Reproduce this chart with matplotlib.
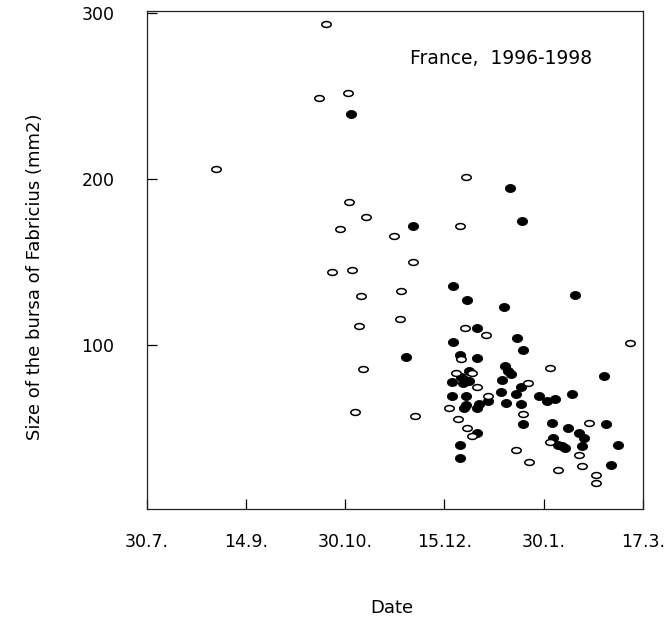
import numpy as np
import matplotlib
matplotlib.use("Agg")
import matplotlib.pyplot as plt
from matplotlib.path import Path

# ── Data: days since 30 July, bursa size (mm2) ────────────────────────────────
OPEN_DAY = [83.1, 80.0, 93.2, 32.4, 147.8, 93.7, 101.7, 89.7, 114.7, 123.4,
            85.8, 95.2, 99.3, 117.9, 98.5, 117.3, 100.2, 96.5, 124.4, 145.2,
            147.6, 157.2, 224.1, 145.9, 186.8, 143.6, 150.8, 176.7, 153.3, 158.0,
            140.1, 174.4, 144.1, 148.7, 150.8, 205.1, 186.8, 171.2, 200.3, 177.4,
            190.8, 201.7, 208.2, 208.2]
OPEN_SIZE = [293.4, 248.8, 251.8, 206.0, 201.2, 186.1, 177.1, 169.9, 165.7, 150.0,
             144.0, 145.2, 129.5, 132.5, 111.4, 115.7, 85.5, 59.6, 57.2, 171.7,
             110.2, 106.2, 101.0, 91.6, 86.3, 83.3, 83.1, 76.9, 74.7, 69.5,
             62.2, 58.3, 55.4, 50.2, 45.0, 53.2, 41.7, 36.9, 33.7, 29.7,
             24.7, 26.9, 21.7, 16.7]

FILLED_DAY = [94.8, 168.6, 123.4, 173.8, 120.2, 142.1, 148.5, 165.6, 198.5, 153.2,
              142.1, 171.8, 174.3, 145.2, 153.2, 166.3, 167.5, 168.7, 149.2, 145.9,
              147.5, 149.5, 146.7, 141.3, 164.7, 173.5, 211.9, 141.5, 147.9, 164.1,
              171.1, 182.0, 185.7, 189.2, 196.9, 147.0, 147.8, 153.2, 154.1, 158.0,
              166.4, 173.7, 153.2, 174.4, 187.7, 195.4, 212.8, 200.3, 202.5, 188.3,
              190.8, 192.6, 194.0, 201.7, 218.5, 145.3, 145.3, 215.1]
FILLED_SIZE = [239.2, 194.6, 171.7, 174.7, 92.8, 135.4, 126.9, 122.9, 130.1, 110.2,
               102.0, 104.0, 96.8, 93.8, 92.3, 87.5, 84.5, 82.3, 84.5, 80.9,
               78.9, 78.5, 76.9, 77.9, 79.1, 74.7, 81.1, 69.5, 69.5, 71.5,
               70.7, 69.5, 66.4, 67.5, 70.7, 62.2, 63.7, 62.2, 64.3, 66.4,
               65.2, 64.3, 47.0, 52.2, 53.2, 50.2, 52.2, 47.0, 44.2, 44.2,
               39.9, 39.2, 37.8, 39.2, 39.9, 39.9, 31.7, 27.7]

TICK_DAYS = [0, 46, 92, 138, 184, 230]
TICK_LABELS = ["30.7.", "14.9.", "30.10.", "15.12.", "30.1.", "17.3."]
Y_TICKS = [100, 200, 300]

# ── Elliptical markers ───────────────────────────────────────────────────────
def ellipse_marker(aspect):
    circ = Path.unit_circle()
    return Path(circ.vertices * np.array([1.0, aspect]), circ.codes)

OPEN_MK = ellipse_marker(0.62)
FILLED_MK = ellipse_marker(0.78)

plt.rcParams["font.family"] = ["DejaVu Sans"]

fig = plt.figure(figsize=(6.68, 6.23), dpi=100)
ax = fig.add_axes([146.5 / 668, 1 - 509 / 623, 496.5 / 668, 498 / 623])

ax.plot(FILLED_DAY, FILLED_SIZE, ls="none", marker=FILLED_MK, ms=7.4,
        mfc="black", mec="black", mew=0.6, zorder=3)
ax.plot(OPEN_DAY, OPEN_SIZE, ls="none", marker=OPEN_MK, ms=6.8,
        mfc="white", mec="black", mew=1.1, zorder=4)

ax.set_xlim(0, 230)
ax.set_ylim(1.2, 301.2)
ax.set_xticks(TICK_DAYS)
ax.set_xticklabels(TICK_LABELS)
ax.set_yticks(Y_TICKS)

ax.tick_params(axis="x", direction="in", length=7, width=0.9, pad=17, labelsize=12.5)
ax.tick_params(axis="y", direction="in", length=7, width=0.9, pad=23, labelsize=12.5)
for sp in ax.spines.values():
    sp.set_linewidth(0.9)
    sp.set_color("#222222")

ax.text(0.53, 0.894, "France,  1996-1998", transform=ax.transAxes,
        fontsize=13.5, ha="left", va="baseline")

fig.text(35 / 668, 1 - 277 / 623, "Size of the bursa of Fabricius (mm2)",
         rotation=90, ha="center", va="center", fontsize=13)
fig.text(392 / 668, 1 - 608 / 623, "Date", ha="center", va="center", fontsize=13)

fig.savefig("out.png", dpi=100)
